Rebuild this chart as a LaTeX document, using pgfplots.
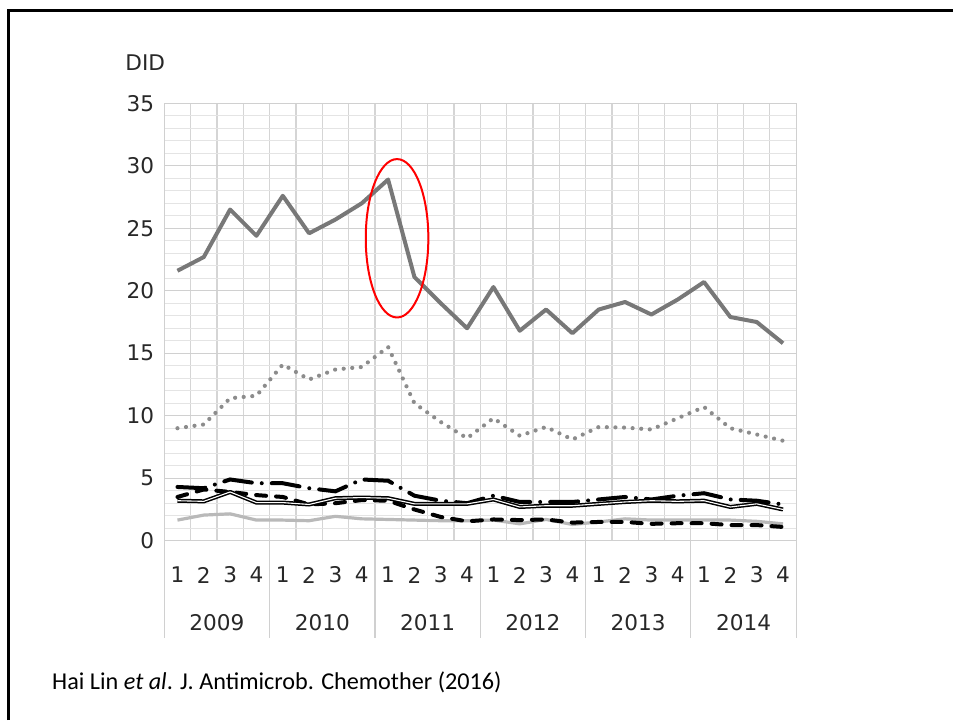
\documentclass[border=0pt]{standalone}
\usepackage{fontspec}
\setmainfont{DejaVu Sans}
\newfontfamily\calibri{Carlito}
\usepackage{pgfplots}
\pgfplotsset{compat=1.18}
\definecolor{mainc}{RGB}{120,120,120}
\definecolor{dotc}{RGB}{140,140,140}
\definecolor{greyc}{RGB}{185,185,185}
\definecolor{gridmajor}{RGB}{208,208,208}
\definecolor{gridminor}{RGB}{228,228,228}
\definecolor{textc}{RGB}{40,40,40}
\begin{document}
\begin{tikzpicture}
\path[use as bounding box] (0,0) rectangle (476.5pt,360pt);
\draw[line width=1.35pt, black] (4.35pt,0) -- (4.35pt,354.85pt) -- (476.5pt,354.85pt);
\begin{axis}[
  at={(82.15pt,89.65pt)}, anchor=south west,
  scale only axis, width=315.95pt, height=218.7pt,
  xmin=0.5, xmax=24.5, ymin=0, ymax=35,
  xtick={1,...,24},
  xticklabels={1,2,3,4,1,2,3,4,1,2,3,4,1,2,3,4,1,2,3,4,1,2,3,4},
  minor xtick={0.5,1.5,2.5,3.5,4.5,5.5,6.5,7.5,8.5,9.5,10.5,11.5,12.5,13.5,14.5,15.5,16.5,17.5,18.5,19.5,20.5,21.5,22.5,23.5,24.5},
  xminorgrids=true,
  ytick={0,5,...,35},
  minor ytick={1,2,3,4,6,7,8,9,11,12,13,14,16,17,18,19,21,22,23,24,26,27,28,29,31,32,33,34},
  ymajorgrids=true, yminorgrids=true,
  major tick length=0pt, minor tick length=0pt,
  axis line style={draw=gridmajor, line width=0.6pt},
  major grid style={draw=gridmajor, line width=0.6pt},
  minor y grid style={draw=gridminor, line width=0.55pt},
  minor x grid style={draw=gridmajor!90!white, line width=0.6pt},
  /pgf/number format/assume math mode=true,
  xticklabel style={anchor=center, yshift=-17.15pt, font=\fontsize{10.8}{12}\selectfont, text=textc},
  yticklabel style={anchor=east, xshift=-1.6pt, font=\fontsize{10.8}{12}\selectfont, text=textc},
  clip=false,
]
\addplot[greyc, line width=1.6pt, line join=round] coordinates {
(1,1.65)(2,2.05)(3,2.15)(4,1.65)(5,1.65)(6,1.6)(7,1.95)(8,1.75)(9,1.7)(10,1.65)(11,1.6)(12,1.6)
(13,1.65)(14,1.35)(15,1.7)(16,1.3)(17,1.5)(18,1.75)(19,1.65)(20,1.65)(21,1.65)(22,1.65)(23,1.55)(24,1.35)};
\addplot[black, line width=2pt, line cap=round, dash pattern=on 5pt off 5pt] coordinates {
(1,3.5)(2,4.1)(3,3.9)(4,3.65)(5,3.5)(6,2.9)(7,3.0)(8,3.25)(9,3.2)(10,2.5)(11,1.9)(12,1.55)
(13,1.7)(14,1.65)(15,1.7)(16,1.45)(17,1.5)(18,1.5)(19,1.35)(20,1.4)(21,1.4)(22,1.25)(23,1.25)(24,1.1)};
\addplot[black, line width=2pt, line cap=round, dash pattern=on 14pt off 5pt on 0pt off 5pt] coordinates {
(1,4.3)(2,4.2)(3,4.9)(4,4.6)(5,4.6)(6,4.2)(7,3.95)(8,4.9)(9,4.8)(10,3.6)(11,3.2)(12,3.0)
(13,3.6)(14,3.1)(15,3.1)(16,3.1)(17,3.3)(18,3.5)(19,3.3)(20,3.6)(21,3.8)(22,3.3)(23,3.2)(24,2.9)};
\addplot[black, line width=0.75pt, double=white, double distance=0.55pt, line join=round] coordinates {
(1,3.2)(2,3.15)(3,3.9)(4,3.05)(5,3.05)(6,2.9)(7,3.4)(8,3.45)(9,3.4)(10,2.95)(11,2.95)(12,2.95)
(13,3.3)(14,2.7)(15,2.8)(16,2.8)(17,2.95)(18,3.1)(19,3.2)(20,3.15)(21,3.2)(22,2.7)(23,2.95)(24,2.5)};
\addplot[dotc, line width=2.1pt, line cap=round, dash pattern=on 0pt off 4.3pt] coordinates {
(1,9.0)(2,9.3)(3,11.4)(4,11.6)(5,14.1)(6,12.9)(7,13.7)(8,13.9)(9,15.5)(10,11.0)(11,9.5)(12,8.2)
(13,9.8)(14,8.4)(15,9.1)(16,8.1)(17,9.1)(18,9.05)(19,8.9)(20,9.8)(21,10.7)(22,9.0)(23,8.5)(24,8.0)};
\addplot[mainc, line width=2pt, line join=round] coordinates {
(1,21.6)(2,22.7)(3,26.5)(4,24.4)(5,27.6)(6,24.6)(7,25.7)(8,27.0)(9,28.9)(10,21.1)(11,19.0)(12,17.0)
(13,20.3)(14,16.8)(15,18.5)(16,16.6)(17,18.5)(18,19.1)(19,18.1)(20,19.3)(21,20.7)(22,17.9)(23,17.5)(24,15.8)};
\draw[red, line width=1pt] (axis cs:9.34,24.2) ellipse [x radius=15.65pt, y radius=39.6pt];
\draw[gridmajor, line width=0.6pt] (axis cs:0.5,0) -- ([yshift=-48.85pt]axis cs:0.5,0);
\draw[gridmajor, line width=0.6pt] (axis cs:4.5,0) -- ([yshift=-48.85pt]axis cs:4.5,0);
\draw[gridmajor, line width=0.6pt] (axis cs:8.5,0) -- ([yshift=-48.85pt]axis cs:8.5,0);
\draw[gridmajor, line width=0.6pt] (axis cs:12.5,0) -- ([yshift=-48.85pt]axis cs:12.5,0);
\draw[gridmajor, line width=0.6pt] (axis cs:16.5,0) -- ([yshift=-48.85pt]axis cs:16.5,0);
\draw[gridmajor, line width=0.6pt] (axis cs:20.5,0) -- ([yshift=-48.85pt]axis cs:20.5,0);
\draw[gridmajor, line width=0.6pt] (axis cs:24.5,0) -- ([yshift=-48.85pt]axis cs:24.5,0);
\node[font=\fontsize{10.8}{12}\selectfont, text=textc] at (axis cs:2.5,0) [yshift=-40.9pt] {2009};
\node[font=\fontsize{10.8}{12}\selectfont, text=textc] at (axis cs:6.5,0) [yshift=-40.9pt] {2010};
\node[font=\fontsize{10.8}{12}\selectfont, text=textc] at (axis cs:10.5,0) [yshift=-40.9pt] {2011};
\node[font=\fontsize{10.8}{12}\selectfont, text=textc] at (axis cs:14.5,0) [yshift=-40.9pt] {2012};
\node[font=\fontsize{10.8}{12}\selectfont, text=textc] at (axis cs:18.5,0) [yshift=-40.9pt] {2013};
\node[font=\fontsize{10.8}{12}\selectfont, text=textc] at (axis cs:22.5,0) [yshift=-40.9pt] {2014};
\end{axis}
\node[anchor=west, inner sep=0pt, font=\fontsize{10.8}{12}\selectfont, text=textc] at (62.5pt,328.75pt) {DID};
\node[anchor=base west, inner sep=0pt, font=\calibri\fontsize{12.1}{14}\selectfont] at (25.9pt,15.35pt) {Hai Lin \textit{et al}. J. Antimicrob. Chemother (2016)};
\end{tikzpicture}
\end{document}
